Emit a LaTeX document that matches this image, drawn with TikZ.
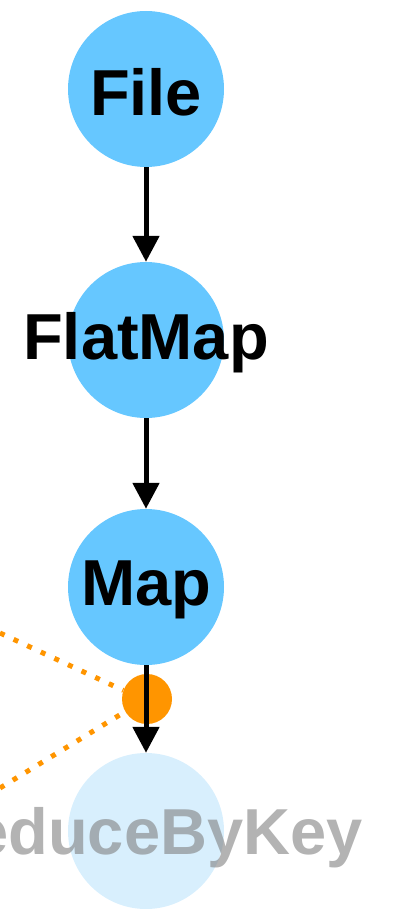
\documentclass[tikz,border=0pt]{standalone}
\usepackage{fontspec}
\setmainfont{Liberation Sans}
\usetikzlibrary{arrows.meta,positioning}

\definecolor{opblue}{HTML}{66C7FF}
\definecolor{oppale}{HTML}{D8EFFD}
\definecolor{dotorange}{HTML}{FF9500}

\begin{document}
\begin{tikzpicture}[
    x=1pt, y=-1pt,
    >={Triangle[length=26pt, width=26pt]},
    flow/.style={->, line width=5pt},
    op/.style={
        circle,
        fill=opblue,
        minimum size=156pt,
        inner sep=0pt
    },
    faded/.style={
        op,
        fill=oppale
    },
    optext/.style={
        font=\fontsize{65}{78}\selectfont\bfseries,
        yshift=-3pt
    },
    fadedtext/.style={
        optext,
        text=black!50, text opacity=0.6
    },
    link/.style={
        dotorange,
        line width=5pt,
        dash pattern=on 5pt off 10pt
    }
]
\useasboundingbox (0,0) rectangle (394,909);

% Operators
\node[op, label={[optext]center:File}] (file) at (146,89) {};
\node[op, label={[optext]center:FlatMap}] (flatmap) at (146,340) {};
\node[op, label={[optext]center:Map}] (map) at (146,587) {};
\node[faded] (reduce) at (146,831) {};
\node[fadedtext] (reducetext) at (144,835) {ReduceByKey};

% Shuffle boundary
\node[circle, fill=dotorange, minimum size=50pt, inner sep=0pt] (shuffle) at (147,699) {};
\coordinate (linkin) at (0,633);
\coordinate (linkout) at (0,788);
\draw[link] (linkin) -- (shuffle.160);
\draw[link] (linkout) -- (shuffle.210);

% Data flow
\draw[flow] (file) -- (flatmap);
\draw[flow] (flatmap) -- (map);
\draw[flow] (map) -- (reduce);

\end{tikzpicture}
\end{document}
